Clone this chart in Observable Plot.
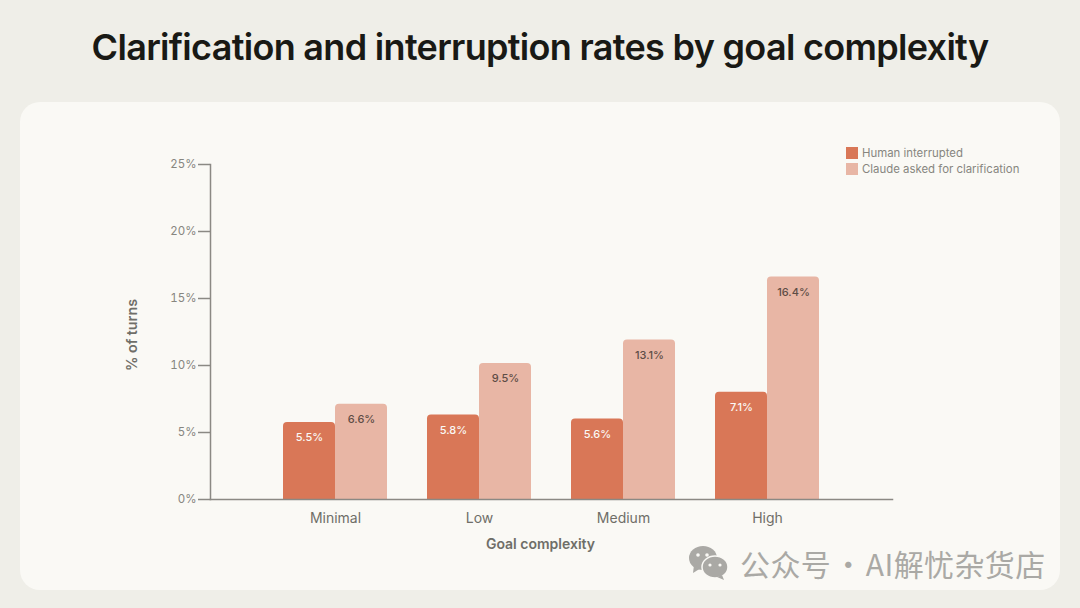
<!DOCTYPE html>
<html>
<head>
<meta charset="utf-8">
<script src="https://cdn.jsdelivr.net/npm/d3@7"></script>
<script src="https://cdn.jsdelivr.net/npm/@observablehq/plot@0.6"></script>
<style>
  html, body { margin: 0; padding: 0; width: 1080px; height: 608px; overflow: hidden; background: #efeee8; font-family: Inter, sans-serif; }
  #title { position: absolute; left: 0; top: 24px; width: 1080px; text-align: center; font-size: 36px; font-weight: 600; letter-spacing: -0.69px; line-height: 46px; color: #191915; }
  #card { position: absolute; left: 20px; top: 102px; width: 1040px; height: 488px; border-radius: 20px; background: #faf9f5; }
  #myplot { position: absolute; left: 0; top: 0; }
  #legend { position: absolute; left: 826px; top: 43px; font-size: 11.4px; color: #87867f; line-height: 16px; }
  #legend div { display: flex; align-items: center; height: 16px; white-space: nowrap; }
  #legend i { display: block; width: 12px; height: 12px; margin-right: 4px; }
  #mark { position: absolute; left: 668px; top: 441px; display: flex; align-items: center; color: #aaa9a5; font-family: "Noto Sans CJK SC", sans-serif; font-size: 30px; white-space: nowrap; word-spacing: -5px; letter-spacing: 0.4px; height: 40px; }
  #mark svg { margin-right: 10px; }
</style>
</head>
<body>
<div id="title">Clarification and interruption rates by goal complexity</div>
<div id="card">
  <div id="myplot"></div>
  <div id="legend"></div>
  <div id="mark">
    <svg width="42" height="36" viewBox="0 0 42 36">
      <ellipse cx="15" cy="13" rx="14" ry="12" fill="#aaa9a5"/>
      <path d="M6 20 L5 28 L13 23 Z" fill="#aaa9a5"/>
      <ellipse cx="27" cy="22" rx="13" ry="11" stroke="#faf9f5" stroke-width="1.5" fill="#aaa9a5"/>
      <path d="M34 30 L36 35 L29 32 Z" fill="#aaa9a5"/>
      <circle cx="10" cy="10" r="1.8" fill="#faf9f5"/><circle cx="19" cy="10" r="1.8" fill="#faf9f5"/>
      <circle cx="22" cy="20" r="1.6" fill="#faf9f5"/><circle cx="32" cy="20" r="1.6" fill="#faf9f5"/>
    </svg>
    <span>公众号 · AI解忧杂货店</span>
  </div>
</div>
<script>
const categories = ["Minimal", "Low", "Medium", "High"];
const seriesNames = ["Human interrupted", "Claude asked for clarification"];
const seriesColors = ["#d97757", "#e8b6a5"];

// the printed labels do not agree with the drawn bar heights, so both are kept
const humanHeights = [5.75, 6.3, 6.0, 8.0];
const claudeHeights = [7.1, 10.15, 11.9, 16.6];
const humanLabels = [5.5, 5.8, 5.6, 7.1];
const claudeLabels = [6.6, 9.5, 13.1, 16.4];
const yTicks = [0, 5, 10, 15, 20, 25];

let data = [];
categories.forEach((c, i) => {
    data.push({category: c, series: seriesNames[0], height: humanHeights[i], label: humanLabels[i]});
    data.push({category: c, series: seriesNames[1], height: claudeHeights[i], label: claudeLabels[i]});
});

const axisColor = "#8b8984";
const textColor = "#87867f";
const outerGap = 73; // facet frame starts this far inside the axis lines

const plot = Plot.plot({
    width: 1040,
    height: 488,
    marginLeft: 190,
    marginRight: 168,
    marginTop: 62,
    marginBottom: 91,
    style: {background: "transparent", fontFamily: "Inter, sans-serif"},
    fx: {domain: categories, paddingInner: 0.2778, paddingOuter: 0.5069, label: null, axis: null},
    x: {domain: seriesNames, padding: 0, axis: null},
    y: {domain: [0, 25], axis: null},
    color: {domain: seriesNames, range: seriesColors},
    marks: [
      Plot.barY(data, {
        fx: "category",
        x: "series",
        y: "height",
        fill: "series",
        rx1y1: 4,
        rx2y1: 4
      }),
      Plot.text(data, {
        fx: "category",
        x: "series",
        y: "height",
        text: d => d.label + "%",
        dy: 15,
        fontSize: 11,
        fontWeight: 500,
        fill: d => d.series == seriesNames[0] ? "#faf9f5" : "#5e4d45"
      }),
      Plot.axisFx({
        anchor: "bottom",
        tickSize: 0,
        tickPadding: 14,
        fontSize: 14,
        color: "#6f6e68",
        label: null
      }),
      Plot.axisY({
        ticks: yTicks,
        tickFormat: d => d + "%",
        tickSize: 12,
        tickPadding: 2,
        dx: -outerGap,
        fontSize: 11.5,
        color: textColor,
        stroke: axisColor,
        strokeWidth: 1.5,
        strokeOpacity: 1,
        label: null
      }),
      Plot.frame({facet: "super", anchor: "left", insetLeft: -outerGap, stroke: axisColor, strokeWidth: 1.5}),
      Plot.frame({facet: "super", anchor: "bottom", insetLeft: -outerGap, insetRight: -outerGap, stroke: axisColor, strokeWidth: 1.5}),
      Plot.text(["Goal complexity"], {
        facet: "super",
        frameAnchor: "bottom",
        dx: -11,
        dy: 49,
        fontSize: 14,
        fontWeight: 600,
        fill: "#6f6e68"
      }),
      Plot.text(["% of turns"], {
        facet: "super",
        frameAnchor: "left",
        textAnchor: "middle",
        rotate: -90,
        dx: -151,
        dy: 3,
        fontSize: 14.3,
        fontWeight: 600,
        fill: "#6f6e68"
      })
    ]
});

document.querySelector("#myplot").append(plot);

const legend = document.querySelector("#legend");
seriesNames.forEach((s, i) => {
    const row = document.createElement("div");
    const sw = document.createElement("i");
    sw.style.background = seriesColors[i];
    row.append(sw, s);
    legend.append(row);
});
</script>
</body>
</html>
